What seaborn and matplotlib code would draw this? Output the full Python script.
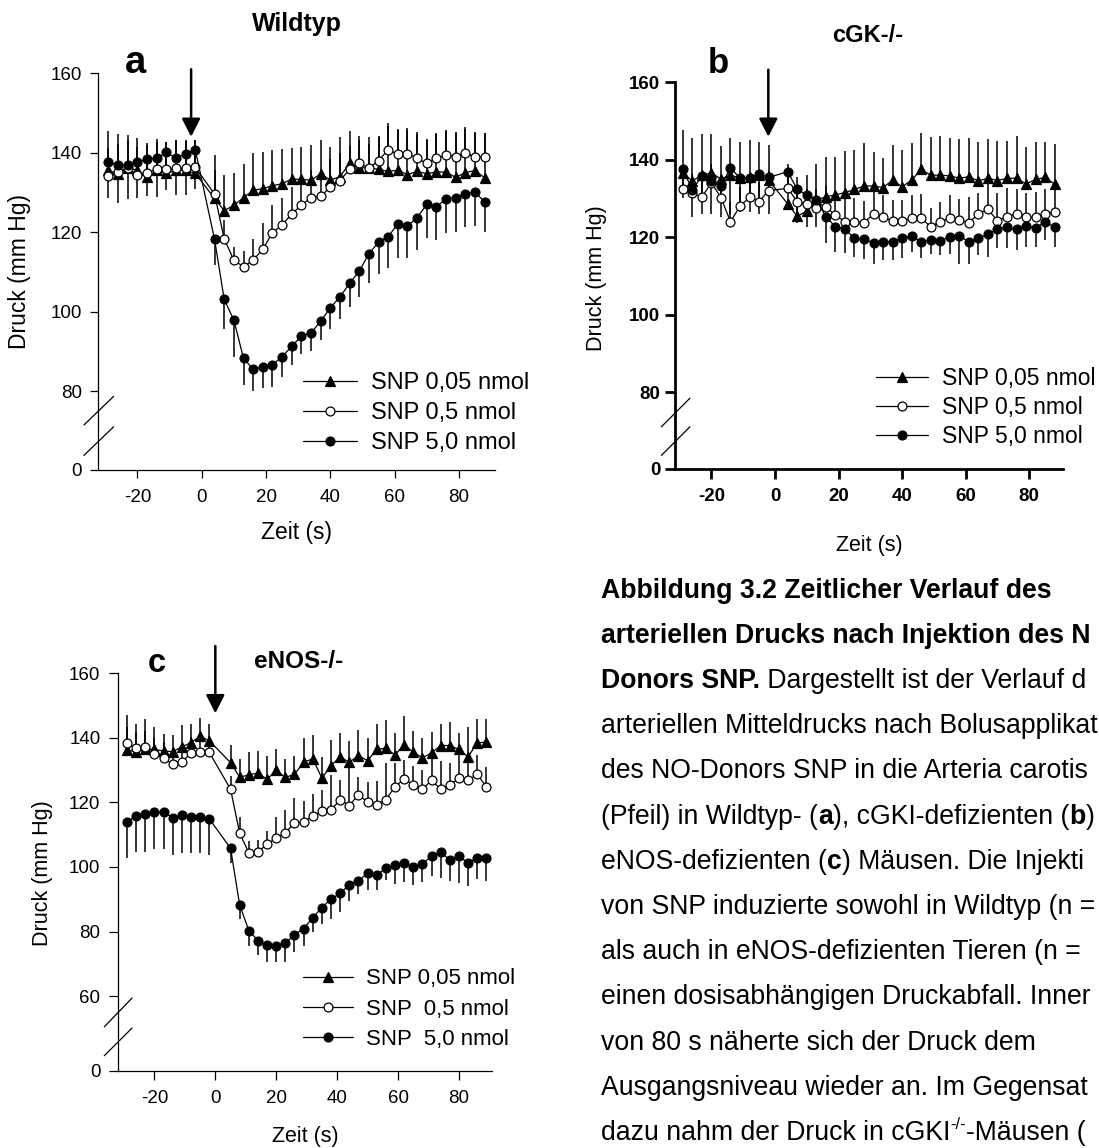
import numpy as np
import pandas as pd
import matplotlib
matplotlib.use("Agg")
import matplotlib.pyplot as plt
import seaborn as sns
from matplotlib.lines import Line2D

# ------------------------------------------------------------------ data
t_base = [-29, -26, -23, -20, -17, -14, -11, -8, -5, -2]
t_post_ab = [4, 7, 10, 13, 16, 19, 22, 25, 28, 31, 34, 37, 40, 43, 46, 49, 52, 55,
             58, 61, 64, 67, 70, 73, 76, 79, 82, 85, 88]
t_post_c = [5, 8, 11, 14, 17, 20, 23, 26, 29, 32, 35, 38, 41, 44, 47, 50, 53, 56,
            59, 62, 65, 68, 71, 74, 77, 80, 83, 86, 89]
t_ab = t_base + t_post_ab
t_c = t_base + t_post_c

# Panel a: Wildtyp
wt_005 = [135.6, 134.6, 136.1, 135.6, 133.8, 135.6, 134.8, 135.6, 135.6, 134.8,
          128.5, 125.4, 126.8, 128.7, 130.5, 131.0, 131.7, 132.2, 133.4, 133.3, 133.1,
          134.7, 133.1, 134.0, 137.3, 136.2, 136.2, 135.8, 135.3, 135.6, 134.5, 135.3,
          134.7, 135.2, 135.1, 133.8, 135.0, 135.5, 133.7]
wt_005_sem = [9.9, 10.1, 8.3, 8.0, 8.7, 7.8, 8.0, 7.6, 7.4, 8.4,
              10.9, 9.0, 8.0, 8.4, 9.5, 9.3, 9.0, 8.8, 7.8, 8.2, 8.8, 8.6, 8.4, 9.9,
              8.1, 8.1, 7.8, 8.4, 12.2, 10.3, 11.7, 9.8, 8.8, 9.8, 10.5, 11.5, 11.5, 9.7, 11.3]
wt_05 = [134.1, 135.2, 136.1, 134.4, 135.0, 135.8, 135.8, 136.1, 136.1, 136.3,
         129.6, 118.3, 113.0, 111.3, 113.0, 115.7, 119.9, 121.8, 124.6, 126.8, 128.7,
         129.0, 131.4, 133.0, 135.8, 137.3, 136.1, 138.0, 140.8, 139.6, 139.8, 138.6,
         137.3, 138.6, 139.4, 139.0, 140.0, 138.9, 138.9]
wt_05_sem = [7, 7, 7, 7, 7, 7, 7, 7, 7, 7,
             6, 4.8, 3.4, 4, 5.4, 6.5, 7, 6.7, 6.8, 6.7, 7, 7, 7, 7,
             6, 6, 6, 6, 6, 6, 6, 6, 6, 6, 6, 6, 6, 6, 6]
wt_50 = [137.7, 136.9, 136.9, 137.7, 138.4, 138.6, 140.1, 138.6, 139.8, 140.7,
         118.2, 103.1, 97.9, 88.3, 85.5, 86.0, 86.7, 88.7, 91.3, 93.9, 94.7, 97.6,
         101.0, 103.7, 107.2, 110.2, 114.6, 117.5, 118.9, 122.1, 121.5, 123.7, 127.0,
         126.4, 128.4, 128.7, 129.7, 130.1, 127.6]
wt_50_sem = [9.2, 9.5, 8.6, 9.2, 9.3, 9.7, 9.5, 9.2, 10.4, 9.9,
             6.5, 7.4, 9.4, 6.8, 5.5, 5.3, 5.5, 5.1, 4.7, 4.5, 4.5, 4.6, 5.4, 5.5,
             6.1, 6.5, 7.3, 8.0, 7.8, 8.7, 7.9, 8.2, 8.5, 8.4, 8.7, 8.6, 8.5, 8.6, 7.6]

# Panel b: cGK-/-
cgk_005 = [136.5, 134.5, 136.0, 136.6, 135.0, 136.0, 135.2, 135.4, 136.0, 134.7,
           128.6, 125.4, 126.7, 129.6, 130.4, 130.9, 131.5, 132.3, 133.2, 133.2, 132.8,
           134.7, 133.0, 134.7, 137.5, 136.0, 136.0, 135.8, 135.2, 135.6, 134.5, 135.2,
           134.6, 135.2, 135.2, 133.7, 134.9, 135.4, 133.7]
cgk_005_sem = [11.1, 11.0, 10.6, 10.0, 8.5, 9.7, 9.4, 9.6, 8.6, 9.1,
               10.3, 10.0, 9.3, 9.4, 10.4, 9.7, 10.6, 10.3, 11.0, 8.8, 7.5, 9.2, 9.5, 9.5,
               9.4, 9.9, 10.2, 9.7, 10.0, 9.9, 10.1, 10.0, 10.3, 9.7, 10.9, 9.6, 9.7, 9.2, 10.3]
cgk_05 = [132.3, 131.3, 130.4, 134.0, 130.2, 124.0, 128.0, 130.3, 129.2, 132.0,
          132.6, 129.2, 128.5, 127.4, 127.8, 125.7, 124.0, 124.0, 123.7, 126.0, 125.1,
          124.2, 124.2, 124.9, 124.9, 122.7, 124.0, 124.9, 124.4, 123.7, 126.0, 127.2,
          124.2, 125.3, 126.0, 125.1, 125.1, 126.0, 126.4]
cgk_05_sem = [5, 5, 5, 5, 5, 5, 5, 5, 5, 5,
              4, 4, 4, 5, 5.5, 5.5, 6, 6, 5.7, 6, 5.8, 5.4, 5.4, 6,
              6.2, 4.7, 5.1, 6, 5.4, 6.6, 5.3, 6.5, 7.1, 7.3, 6.3, 6.2, 6.6, 6.3, 6]
cgk_50 = [137.5, 132.2, 135.8, 134.5, 133.2, 137.9, 135.2, 135.2, 136.3, 135.4,
          136.9, 132.3, 130.9, 129.7, 125.3, 122.7, 122.1, 119.7, 119.4, 118.6, 118.8,
          118.8, 119.7, 120.3, 118.8, 119.3, 119.1, 120.1, 120.3, 118.8, 119.7, 120.8,
          122.0, 122.5, 122.0, 122.9, 122.3, 124.0, 122.5]
cgk_50_sem = [7.5, 6.9, 9.7, 8.4, 7.9, 11.8, 8.6, 8.6, 10.2, 9.3,
              3, 8.6, 8.2, 7, 6.9, 6.5, 6.3, 4.8, 5.1, 5.5, 4.7, 4.7, 5.2, 4.1,
              4.3, 3.7, 3.7, 4.5, 7.2, 5.7, 4.3, 5.8, 4.9, 5.4, 5.3, 5.4, 4.8, 4.8, 5]

# Panel c: eNOS-/-
enos_005 = [136.2, 135.7, 136.5, 136.4, 135.9, 135.7, 137.2, 138.5, 140.5, 139.1,
            132.3, 127.8, 128.5, 129.1, 127.1, 130.0, 127.7, 128.7, 132.4, 133.5, 127.5,
            131.4, 134.1, 132.4, 134.5, 132.9, 136.4, 136.8, 134.7, 137.8, 135.6, 133.8,
            135.3, 137.6, 137.6, 136.4, 134.1, 138.4, 138.7]
enos_005_sem = [10.8, 8.7, 9.2, 6.8, 5.2, 5.1, 6.7, 5.9, 5.5, 5.3,
                5.4, 5.5, 7.2, 6.9, 7.3, 6.4, 5.8, 5.7, 7.5, 7.4, 6.4, 8.0, 7.3, 6.7,
                8.0, 6.9, 7.9, 8.7, 6.9, 8.8, 6.4, 6.2, 6.6, 6.6, 7.2, 5.1, 9.3, 7.3, 7.0]
enos_05 = [138.3, 136.7, 137.0, 134.9, 133.8, 131.8, 132.6, 135.2, 135.7, 135.5,
           124.1, 110.4, 104.4, 104.7, 107.0, 109.0, 110.6, 113.6, 113.8, 115.9, 117.2,
           117.7, 120.8, 119.0, 122.4, 120.0, 119.3, 120.8, 124.9, 127.2, 125.4, 124.1,
           126.8, 124.1, 125.4, 127.5, 126.8, 128.7, 124.8]
enos_05_sem = [5, 5, 5, 5, 5, 5, 5, 5, 5, 5,
               4, 5, 3.5, 3.5, 4, 6.5, 7.1, 7.7, 6.5, 6.8, 6.7, 10.8, 6.2, 12.1,
               5.6, 6.2, 7.2, 11.5, 7.4, 5.9, 5.9, 5.9, 6.5, 8.8, 6.9, 8.2, 7, 6, 6]
enos_50 = [113.8, 115.9, 116.4, 117.0, 117.0, 115.2, 116.1, 115.4, 115.4, 114.9,
           105.8, 88.2, 80.3, 77.2, 75.7, 75.5, 76.4, 79.0, 80.9, 84.3, 87.4, 90.1,
           91.8, 94.5, 95.7, 98.0, 97.4, 99.7, 100.6, 101.2, 100.0, 101.0, 103.3,
           104.5, 102.2, 103.4, 101.2, 102.8, 102.8]
enos_50_sem = [10.9, 11.2, 11.7, 11.3, 11.3, 11.5, 11.7, 11.0, 11.0, 11.2,
               4.5, 4.3, 4.8, 4.6, 5.1, 4.9, 5.8, 5.3, 5.4, 4.5, 5.0, 6.2, 5.7, 4.9,
               4.1, 5.2, 4.5, 3.8, 5.8, 6.0, 5.5, 5.7, 6.0, 7.9, 6.5, 8.4, 7.0, 6.5, 7.0]

labels_ab = ["SNP 0,05 nmol", "SNP 0,5 nmol", "SNP 5,0 nmol"]
labels_c = ["SNP 0,05 nmol", "SNP  0,5 nmol", "SNP  5,0 nmol"]
xticks = [-20, 0, 20, 40, 60, 80]
xtick_labels = ["-20", "0", "20", "40", "60", "80"]
yticks_ab = [0, 80, 100, 120, 140, 160]
yticks_c = [0, 60, 80, 100, 120, 140, 160]

# ------------------------------------------------------------------ style
sns.set_theme(style="ticks")
plt.rcParams["font.family"] = ["Liberation Sans", "DejaVu Sans"]
plt.rcParams["axes.unicode_minus"] = False
plt.rcParams["axes.edgecolor"] = "black"
plt.rcParams["xtick.color"] = "black"
plt.rcParams["ytick.color"] = "black"
plt.rcParams["text.color"] = "black"
plt.rcParams["axes.labelcolor"] = "black"

W, H = 1099, 1148
fig = plt.figure(figsize=(W / 100, H / 100), dpi=100)


def rect(l, t, r, b):
    return [l / W, 1 - b / H, (r - l) / W, (b - t) / H]


def make_scale(brk, zero_pos):
    k = (brk - zero_pos) / brk

    def fwd(y):
        y = np.asarray(y, dtype=float)
        return np.where(y >= brk, y, brk - (brk - y) * k)

    def inv(t):
        t = np.asarray(t, dtype=float)
        return np.where(t >= brk, t, brk - (brk - t) / k)

    return fwd, inv


STYLES = [
    dict(marker="^", mfc="black", ms=7.0, up=True),
    dict(marker="o", mfc="white", ms=6.4, up=True),
    dict(marker="o", mfc="black", ms=6.4, up=False),
]


def panel(box, xlim, brk, zero_pos, yticks, times, series, labels, bold,
          spine_w, tick_len, ypad, xpad, ylabel_px, xlabel_base_px, label_fs,
          leg_left, leg_mid, leg_fs, leg_ls, leg_hl, leg_tp,
          arrow_x, arrow_tip, arrow_top, breaks):
    l, t, r, b = box
    ax = fig.add_axes(rect(l, t, r, b))
    fwd, inv = make_scale(brk, zero_pos)
    ax.set_yscale("function", functions=(fwd, inv))

    # one-sided error bars behind the lines
    for (vals, sem), st in zip(series, STYLES):
        v = np.asarray(vals, float)
        e = np.asarray(sem, float)
        z = np.zeros_like(e)
        yerr = [z, e] if st["up"] else [e, z]
        ax.errorbar(times, v, yerr=yerr, fmt="none", ecolor="black",
                    elinewidth=1.1, capsize=0, zorder=1)

    for i, ((vals, sem), st) in enumerate(zip(series, STYLES)):
        df = pd.DataFrame({"Zeit": times, "Druck": vals})
        sns.lineplot(data=df, x="Zeit", y="Druck", ax=ax, color="black",
                     linewidth=0.9, marker=st["marker"], markersize=st["ms"],
                     markerfacecolor=st["mfc"], markeredgecolor="black",
                     markeredgewidth=0.9, estimator=None, errorbar=None,
                     sort=False, zorder=2 + i)

    ax.set_xlim(*xlim)
    ax.set_ylim(0, 160)
    ax.set_xticks(xticks, labels=xtick_labels)
    ax.set_yticks(yticks, labels=[str(v) for v in yticks])
    ax.minorticks_off()
    sns.despine(ax=ax)
    for s in ("left", "bottom"):
        ax.spines[s].set_linewidth(spine_w)
    ax.tick_params(axis="both", direction="out", length=tick_len, width=spine_w,
                   labelsize=13.5)
    ax.tick_params(axis="y", pad=ypad)
    ax.tick_params(axis="x", pad=xpad)
    if bold:
        for lab in ax.get_xticklabels() + ax.get_yticklabels():
            lab.set_fontweight("bold")

    ax.set_ylabel("Druck (mm Hg)", fontsize=label_fs)
    ax.yaxis.set_label_coords((ylabel_px[0] - l) / (r - l), (b - ylabel_px[1]) / (b - t))
    ax.yaxis.label.set_verticalalignment("center")
    ax.set_xlabel("Zeit (s)", fontsize=label_fs)
    ax.xaxis.set_label_coords(0.5, (b - xlabel_base_px) / (b - t))
    ax.xaxis.label.set_verticalalignment("baseline")

    # axis break marks
    wpx, hpx = r - l, b - t
    for (x1, y1, x2, y2) in breaks:
        ax.plot([x1 / wpx, x2 / wpx], [y1 / hpx, y2 / hpx], transform=ax.transAxes,
                color="black", lw=0.9, clip_on=False)

    # injection arrow
    ax.annotate("", xy=(arrow_x, arrow_tip), xytext=(arrow_x, arrow_top),
                arrowprops=dict(arrowstyle="-|>,head_length=0.55,head_width=0.28",
                                color="black", lw=1.8, shrinkA=0, shrinkB=0,
                                mutation_scale=20),
                annotation_clip=False)

    handles = [Line2D([0], [0], color="black", lw=0.9, marker=st["marker"],
                      ms=st["ms"], mfc=st["mfc"], mec="black", mew=0.9)
               for st in STYLES]
    ax.legend(handles, labels, loc="center left",
              bbox_to_anchor=(leg_left / W, 1 - leg_mid / H),
              bbox_transform=fig.transFigure, frameon=False, fontsize=leg_fs,
              handlelength=leg_hl, handletextpad=leg_tp, labelspacing=leg_ls,
              borderpad=0, borderaxespad=0)
    return ax


ax_a = panel((98.2, 73.2, 494.6, 469.6), (-32.2, 91.1), 80, 60.3, yticks_ab, t_ab,
             [(wt_005, wt_005_sem), (wt_05, wt_05_sem), (wt_50, wt_50_sem)],
             labels_ab, False, 0.9, 5.8, 6, 8, (19.6, 271.4), 539, 16.5,
             303.3, 413.3, 17, 0.34, 2.26, 0.62, -3.3, 144.0, 161.0,
             [(-14.3, 44.6, 15.4, 73.2), (-14.3, 14.2, 15.4, 42.8)])

ax_b = panel((675.2, 82.1, 1062.6, 468.6), (-31.4, 90.5), 80, 60.3, yticks_ab, t_ab,
             [(cgk_005, cgk_005_sem), (cgk_05, cgk_05_sem), (cgk_50, cgk_50_sem)],
             labels_ab, True, 2.0, 7.2, 3.6, 6.5, (596.1, 278.6), 550.6, 15.5,
             875.6, 407.5, 16.5, 0.27, 2.28, 0.6, -2.1, 145.9, 163.2,
             [(-13.8, 41.8, 14.7, 70.4), (-13.8, 13.2, 14.7, 41.8)])

ax_c = panel((117.9, 673.2, 492.1, 1070.7), (-32.0, 90.9), 60, 36.9, yticks_c, t_c,
             [(enos_005, enos_005_sem), (enos_05, enos_05_sem), (enos_50, enos_50_sem)],
             labels_c, False, 0.9, 6.2, 6.4, 8, (42.9, 873.1), 1142.0, 15.5,
             302.9, 1009, 16, 0.41, 2.25, 0.59, 0.0, 147.6, 168.4,
             [(-13.6, 43.9, 14.2, 72.7), (-13.6, 15.0, 14.2, 42.7)])


def ptext(x, y, s, **kw):
    kw.setdefault("va", "baseline")
    return fig.text(x / W, 1 - y / H, s, **kw)


# titles and panel letters
ptext(297.3, 31.4, "Wildtyp", ha="center", fontsize=18, fontweight="bold")
ptext(867.7, 42.1, "cGK-/-", ha="center", fontsize=17, fontweight="bold")
ptext(298.2, 668.0, "eNOS-/-", ha="center", fontsize=17.5, fontweight="bold")
ptext(125.0, 73.2, "a", ha="left", fontsize=27.5, fontweight="bold")
ptext(707.8, 73.2, "b", ha="left", fontsize=25, fontweight="bold")
ptext(148.2, 672.5, "c", ha="left", fontsize=23.5, fontweight="bold")

# ------------------------------------------------------------------ caption
renderer = fig.canvas.get_renderer()


def text_width(s, weight, fs):
    t1 = fig.text(0, 0, "|" + s + "|", fontsize=fs, fontweight=weight)
    t2 = fig.text(0, 0, "||", fontsize=fs, fontweight=weight)
    w = t1.get_window_extent(renderer).width - t2.get_window_extent(renderer).width
    t1.remove()
    t2.remove()
    return w


def ink_right(s, weight, fs):
    t1 = fig.text(0, 0, s, fontsize=fs, fontweight=weight)
    w = t1.get_window_extent(renderer).width
    t1.remove()
    return w


CAP_FS = 19.2
caption = [
    [("Abbildung 3.2 Zeitlicher Verlauf des", "bold", False)],
    [("arteriellen Drucks nach Injektion des NO-", "bold", False)],
    [("Donors SNP.", "bold", False), (" Dargestellt ist der Verlauf des", "normal", False)],
    [("arteriellen Mitteldrucks nach Bolusapplikation", "normal", False)],
    [("des NO-Donors SNP in die Arteria carotis", "normal", False)],
    [("(Pfeil) in Wildtyp- (", "normal", False), ("a", "bold", False),
     ("), cGKI-defizienten (", "normal", False), ("b", "bold", False),
     (") und", "normal", False)],
    [("eNOS-defizienten (", "normal", False), ("c", "bold", False),
     (") Mäusen. Die Injektion", "normal", False)],
    [("von SNP induzierte sowohl in Wildtyp (n = 6)", "normal", False)],
    [("als auch in eNOS-defizienten Tieren (n = 6)", "normal", False)],
    [("einen dosisabhängigen Druckabfall. Innerhalb", "normal", False)],
    [("von 80 s näherte sich der Druck dem", "normal", False)],
    [("Ausgangsniveau wieder an. Im Gegensatz", "normal", False)],
    [("dazu nahm der Druck in cGKI", "normal", False), ("-/-", "normal", True),
     ("-Mäusen (n = 6)", "normal", False)],
]

# the caption runs past the page edge in the original; draw the part that is visible
x0, y0, dy = 601.3, 597.5, 45.2
for i, runs in enumerate(caption):
    x = x0
    yb = y0 + i * dy
    for s, weight, sup in runs:
        fs = CAP_FS * 0.62 if sup else CAP_FS
        ylift = CAP_FS * 100 / 72 * 0.42 if sup else 0
        shown = s
        while shown and x + ink_right(shown, weight, fs) > W - 1:
            shown = shown[:-1]
        shown = shown.rstrip()
        if shown:
            ptext(x, yb - ylift, shown, ha="left", fontsize=fs, fontweight=weight)
        if shown != s:
            break
        x += text_width(s, weight, fs)

fig.savefig("out.png", dpi=100)
